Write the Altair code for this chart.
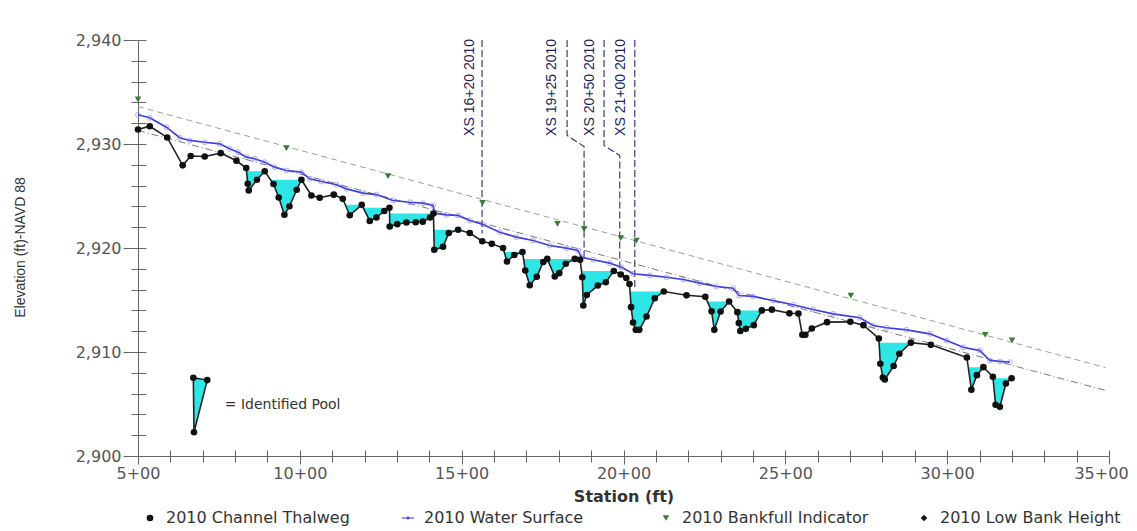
import altair as alt
import pandas as pd

FONT = "DejaVu Sans"

# ---------------- data ----------------
thalweg_station = [
    500.0, 536.2, 590.2, 638.1, 662.9, 706.1, 755.6, 804.1, 834.4, 839.0,
    842.1, 867.4, 891.5, 918.7, 934.8, 952.4, 967.8, 990.4, 1004.9, 1035.8,
    1061.5, 1104.8, 1132.6, 1154.2, 1191.3, 1216.0, 1236.7, 1260.8, 1276.9, 1277.8,
    1301.0, 1329.4, 1358.1, 1379.8, 1402.3, 1412.8, 1415.3, 1442.5, 1460.1, 1488.9,
    1525.0, 1563.6, 1593.0, 1627.9, 1640.0, 1662.5, 1687.9, 1696.5, 1710.4, 1732.1,
    1752.1, 1764.5, 1787.7, 1801.6, 1821.7, 1849.5, 1865.9, 1872.7, 1875.8, 1886.6,
    1920.6, 1945.3, 1970.0, 1991.7, 2008.6, 2018.5, 2023.5, 2029.6, 2038.0, 2048.8,
    2071.1, 2096.7, 2124.5, 2194.7, 2252.8, 2272.2, 2280.6, 2300.0, 2326.3, 2351.9,
    2356.3, 2360.9, 2377.9, 2402.6, 2427.4, 2458.3, 2512.6, 2540.4, 2552.5, 2561.8,
    2581.9, 2628.9, 2700.8, 2741.3, 2788.9, 2793.5, 2801.3, 2807.4, 2834.6, 2852.3,
    2887.8, 2949.6, 3060.9, 3074.8, 3091.8, 3111.9, 3141.2, 3149.6, 3162.9, 3181.4,
    3199.0,
]
thalweg_elev = [
    2931.39, 2931.71, 2930.63, 2927.95, 2928.85, 2928.80, 2929.12, 2928.39, 2927.69, 2926.17,
    2925.53, 2926.56, 2927.38, 2926.15, 2924.86, 2923.20, 2924.01, 2925.60, 2926.56, 2925.05,
    2924.83, 2925.13, 2924.73, 2923.15, 2924.15, 2922.60, 2922.93, 2923.56, 2923.87, 2922.07,
    2922.29, 2922.45, 2922.48, 2922.53, 2922.93, 2923.32, 2919.83, 2920.12, 2921.44, 2921.75,
    2921.44, 2920.65, 2920.40, 2920.00, 2918.70, 2919.33, 2919.62, 2917.84, 2916.42, 2917.23,
    2918.65, 2918.95, 2917.26, 2917.58, 2918.48, 2918.95, 2918.87, 2917.19, 2914.47, 2915.48,
    2916.39, 2916.71, 2917.79, 2917.45, 2917.12, 2916.54, 2914.31, 2912.84, 2912.13, 2912.13,
    2913.41, 2915.17, 2915.82, 2915.45, 2915.31, 2913.91, 2912.13, 2913.89, 2914.86, 2913.83,
    2912.79, 2912.02, 2912.23, 2912.58, 2914.00, 2914.07, 2913.72, 2913.70, 2911.65, 2911.65,
    2912.26, 2912.87, 2912.90, 2912.58, 2911.30, 2908.87, 2907.55, 2907.36, 2908.65, 2909.83,
    2910.90, 2910.69, 2909.47, 2906.37, 2907.77, 2908.54, 2907.62, 2904.93, 2904.73, 2906.97,
    2907.48,
]

water_station = [
    500.0, 536.2, 587.8, 628.9, 659.8, 706.1, 752.5, 783.4, 809.0, 835.0,
    860.6, 891.5, 922.4, 958.6, 1004.9, 1030.6, 1066.7, 1113.1, 1144.0, 1195.3,
    1236.7, 1288.0, 1339.6, 1380.7, 1411.6, 1416.8, 1453.0, 1488.9, 1525.0, 1566.1,
    1617.7, 1669.3, 1720.6, 1772.2, 1823.8, 1859.7, 1870.2, 1906.1, 1957.6, 1993.8,
    2029.6, 2081.2, 2132.9, 2184.2, 2235.8, 2287.4, 2338.7, 2357.2, 2400.5, 2462.3,
    2524.1, 2585.9, 2647.7, 2730.2, 2771.3, 2812.7, 2874.5, 2946.5, 2998.1, 3049.4,
    3101.0, 3131.9, 3162.8, 3193.7,
]
water_elev = [
    2932.81, 2932.52, 2931.62, 2930.60, 2930.34, 2930.17, 2930.02, 2929.54, 2929.21, 2928.73,
    2928.58, 2928.25, 2927.77, 2927.45, 2927.29, 2926.65, 2926.39, 2926.08, 2925.69, 2925.27,
    2925.14, 2924.57, 2924.40, 2924.31, 2924.09, 2923.35, 2923.19, 2923.13, 2922.64, 2922.26,
    2921.52, 2921.04, 2920.72, 2920.24, 2919.98, 2919.76, 2919.12, 2918.87, 2918.54, 2918.15,
    2917.52, 2917.36, 2917.19, 2916.97, 2916.62, 2916.30, 2916.13, 2915.43, 2915.34, 2914.95,
    2914.54, 2914.09, 2913.67, 2913.29, 2912.55, 2912.33, 2912.13, 2911.75, 2911.11, 2910.46,
    2910.14, 2909.18, 2909.09, 2909.02,
]

bankfull_station = [500.0, 958.6, 1272.6, 1564.3, 1796.0, 1878.2, 1991.6, 2040.2, 2702.4, 3117.7, 3200.5]
bankfull_elev = [2934.28, 2929.60, 2926.90, 2924.35, 2922.33, 2921.81, 2920.94, 2920.72, 2915.43, 2911.65, 2911.11]

# trend lines (upper = bankfull, lower = low bank)
trend_station = [500.0, 3490.0]
upper_trend_elev = [2933.6, 2908.5]
lower_trend_elev = [2931.3, 2906.3]

# identified pools: left edge station, first thalweg index, crest index
pool_start = [835.3, 909.6, 1140.5, 1195.8, 1277.2, 1413.9, 1631.4, 1691.1,
              1764.5, 1870.3, 2020.1, 2259.0, 2347.7, 2789.7, 3065.1, 3141.6]
pool_first = [9, 13, 23, 25, 29, 36, 44, 47, 52, 57, 66, 75, 79, 95, 103, 107]
pool_crest = [12, 18, 24, 28, 35, 39, 46, 51, 55, 62, 72, 78, 84, 100, 105, 110]

# cross-section markers
xs_labels = ["XS 16+20 2010", "XS 19+25 2010", "XS 20+50 2010", "XS 21+00 2010"]
xs_label_station = [1527.2, 1780.6, 1895.8, 1993.8]
xs_label_elev = [2940.1, 2940.1, 2940.1, 2940.1]
xs_line_station = [
    [1563.0, 1563.0],
    [1825.7, 1825.7, 1878.2, 1878.2],
    [1940.0, 1940.0, 1988.5, 1988.5],
    [2034.9, 2034.9],
]
xs_line_elev = [
    [2940.0, 2921.4],
    [2940.0, 2930.82, 2929.76, 2918.8],
    [2940.0, 2929.86, 2928.89, 2917.5],
    [2940.0, 2916.2],
]

# "identified pool" key graphic
pool_key_station = [671.0, 673.0, 714.0]
pool_key_elev = [2907.52, 2902.28, 2907.30]
pool_key_top = [2907.52, 2907.51, 2907.30]
pool_key_text = "= Identified Pool"
pool_key_text_station = 767.9
pool_key_text_elev = 2904.95

series_names = ["2010 Channel Thalweg", "2010 Water Surface",
                "2010 Bankfull Indicator", "2010 Low Bank Height"]
series_colors = ["#111111", "#3d3de0", "#3d7a35", "#111111"]
series_shapes = [
    "circle",
    "M-1.9,-0.14H1.9V0.14H-1.9Z M0.45,0A0.45,0.45 0 1,1 -0.45,0A0.45,0.45 0 1,1 0.45,0Z",
    "triangle-down",
    "diamond",
]
series_sizes = [44, 44, 60, 44]

# axis tick positions
x_tick_values = list(range(500, 3501, 100))
y_tick_values = list(range(2900, 2941, 2))

# ---------------- tables ----------------
thalweg_df = pd.DataFrame({"s": thalweg_station, "e": thalweg_elev})
water_df = pd.DataFrame({"s": water_station, "e": water_elev})
points_df = pd.concat([
    pd.DataFrame({"s": thalweg_station, "e": thalweg_elev, "series": series_names[0]}),
    pd.DataFrame({"s": bankfull_station, "e": bankfull_elev, "series": series_names[2]}),
], ignore_index=True)
trend_df = pd.concat([
    pd.DataFrame({"s": trend_station, "e": upper_trend_elev, "line": "upper"}),
    pd.DataFrame({"s": trend_station, "e": lower_trend_elev, "line": "lower"}),
], ignore_index=True)

pool_rows = []
for k, (st, a, c) in enumerate(zip(pool_start, pool_first, pool_crest)):
    lvl = thalweg_elev[c]
    pool_rows.append({"pool": k, "s": st, "e": lvl, "lvl": lvl})
    for i in range(a, c + 1):
        pool_rows.append({"pool": k, "s": thalweg_station[i], "e": thalweg_elev[i], "lvl": lvl})
pool_df = pd.DataFrame(pool_rows)

xs_rows = []
for k, (ss, ee) in enumerate(zip(xs_line_station, xs_line_elev)):
    for j, (s, e) in enumerate(zip(ss, ee)):
        xs_rows.append({"xs": k, "o": j, "s": s, "e": e})
xs_df = pd.DataFrame(xs_rows)
xs_text_df = pd.DataFrame({"s": xs_label_station, "e": xs_label_elev, "label": xs_labels})

key_area_df = pd.DataFrame({"s": pool_key_station, "e": pool_key_elev, "lvl": pool_key_top})
key_outline_df = pd.DataFrame({
    "s": [pool_key_station[0], pool_key_station[2], pool_key_station[1], pool_key_station[0]],
    "e": [pool_key_elev[0], pool_key_elev[2], pool_key_elev[1], pool_key_elev[0]],
    "o": [0, 1, 2, 3],
})
key_text_df = pd.DataFrame({"s": [pool_key_text_station], "e": [pool_key_text_elev], "label": [pool_key_text]})

# ---------------- scales / axes ----------------
W, H = 971, 416
xscale = alt.Scale(domain=[500, 3500], nice=False, zero=False)
yscale = alt.Scale(domain=[2900, 2940], nice=False, zero=False)

AXIS_GRAY = "#666666"
X_IN, Y_IN = 6, 8  # inward part of the crossing ticks (a grid dash at the axis end)

x_axis = alt.Axis(
    values=x_tick_values,
    labelExpr="datum.value % 500 === 0 ? floor(datum.value / 100) + '+00' : ''",
    tickSize={"condition": {"test": "datum.value % 500 === 0", "value": 8}, "value": 6},
    labelOffset={"condition": {"test": "datum.value >= 3500", "value": -8}, "value": 0},
    tickColor=AXIS_GRAY, domainColor=AXIS_GRAY, tickWidth=1,
    grid=True, gridColor=AXIS_GRAY, gridDash=[X_IN, H - X_IN], gridDashOffset=X_IN,
    gridWidth=1, gridOpacity=1,
    labelFont=FONT, labelFontSize=16, labelColor="#555555", labelPadding=1,
    labelFlush=False, labelOverlap=False,
    title="Station (ft)", titleFont=FONT, titleFontSize=16,
    titleFontWeight="bold", titleColor="#333333", titleY=40, titleBaseline="middle",
)
y_axis = alt.Axis(
    values=y_tick_values,
    labelExpr="datum.value % 10 === 0 ? format(datum.value, ',d') : ''",
    tickSize={"condition": {"test": "datum.value % 10 === 0", "value": 15}, "value": 7},
    tickColor=AXIS_GRAY, domainColor=AXIS_GRAY, tickWidth=1,
    grid=True, gridColor=AXIS_GRAY, gridDash=[Y_IN, 3000],
    gridWidth=1, gridOpacity=1,
    labelFont=FONT, labelFontSize=16, labelColor="#555555", labelPadding=2,
    labelFlush=False, labelOverlap=False,
    title="Elevation (ft)-NAVD 88", titleFont="Liberation Sans",
    titleFontSize=14, titleFontWeight="normal", titleColor="#333333",
    titleX=-118, titleY=207, titleAngle=270, titleAlign="center", titleBaseline="middle",
)


def X():
    return alt.X("s:Q", scale=xscale, axis=x_axis)


def Y():
    return alt.Y("e:Q", scale=yscale, axis=y_axis)


legend = alt.Legend(
    title=None, orient="none", legendX=4, legendY=470, direction="horizontal",
    columns=4, gridAlign="all", columnPadding=47, labelFont=FONT, labelFontSize=16,
    labelColor="#333333", labelLimit=500, symbolSize=40,
    labelOffset=8, padding=0,
)

# ---------------- layers ----------------
trend_upper = alt.Chart(trend_df).transform_filter("datum.line == 'upper'").mark_line(
    color="#8fa88f", strokeWidth=1, strokeDash=[6, 4]).encode(x=X(), y=Y())
trend_lower = alt.Chart(trend_df).transform_filter("datum.line == 'lower'").mark_line(
    color="#7a7a7a", strokeWidth=1, strokeDash=[7, 3, 1, 3]).encode(x=X(), y=Y())

pools = alt.Chart(pool_df).mark_area(color="#2ee6e6", opacity=1).encode(
    x=X(), y=Y(), y2="lvl:Q", detail="pool:N")
key_area = alt.Chart(key_area_df).mark_area(color="#2ee6e6", opacity=1).encode(
    x=X(), y=Y(), y2="lvl:Q")

xs_lines = alt.Chart(xs_df).mark_line(color="#2b2b6e", strokeWidth=1.1, strokeDash=[7, 3]).encode(
    x=X(), y=Y(), detail="xs:N", order="o:Q")

water_line = alt.Chart(water_df).mark_line(color="#3d3de0", strokeWidth=1.7).encode(x=X(), y=Y())
water_pts = alt.Chart(water_df).mark_point(
    shape="circle", filled=False, size=24, color="#7f7ff5", strokeWidth=0.9).encode(x=X(), y=Y())

thalweg_line = alt.Chart(thalweg_df).mark_line(color="#222222", strokeWidth=1.6).encode(x=X(), y=Y())
key_outline = alt.Chart(key_outline_df).mark_line(color="#222222", strokeWidth=1.6).encode(
    x=X(), y=Y(), order="o:Q")

color_scale = alt.Scale(domain=series_names, range=series_colors)
pts = alt.Chart(points_df).mark_point(filled=True, opacity=1).encode(
    x=X(), y=Y(),
    color=alt.Color("series:N", scale=color_scale, legend=legend),
    shape=alt.Shape("series:N", scale=alt.Scale(domain=series_names, range=series_shapes), legend=legend),
    size=alt.Size("series:N", scale=alt.Scale(domain=series_names, range=series_sizes), legend=None),
)
key_pts = alt.Chart(key_area_df).mark_point(filled=True, color="#111111", size=44, opacity=1).encode(
    x=X(), y=Y())

xs_text = alt.Chart(xs_text_df).mark_text(
    angle=270, align="right", baseline="middle", font="Liberation Sans",
    fontSize=14, color="#1f1f5c").encode(x=X(), y=Y(), text="label:N")
key_text = alt.Chart(key_text_df).mark_text(
    align="left", baseline="middle", font=FONT, fontSize=14, color="#333333").encode(
    x=X(), y=Y(), text="label:N")

chart = alt.layer(
    trend_upper, trend_lower, pools, key_area, xs_lines, water_line, water_pts,
    thalweg_line, key_outline, pts, key_pts, xs_text, key_text,
).properties(
    width=W, height=H,
    autosize=alt.AutoSizeParams(type="none"),
    padding={"left": 130, "top": 32, "right": 20, "bottom": 72},
    background="white",
).configure_view(stroke=None)

chart.save("out.html", embed_options={"renderer": "svg", "actions": False})
